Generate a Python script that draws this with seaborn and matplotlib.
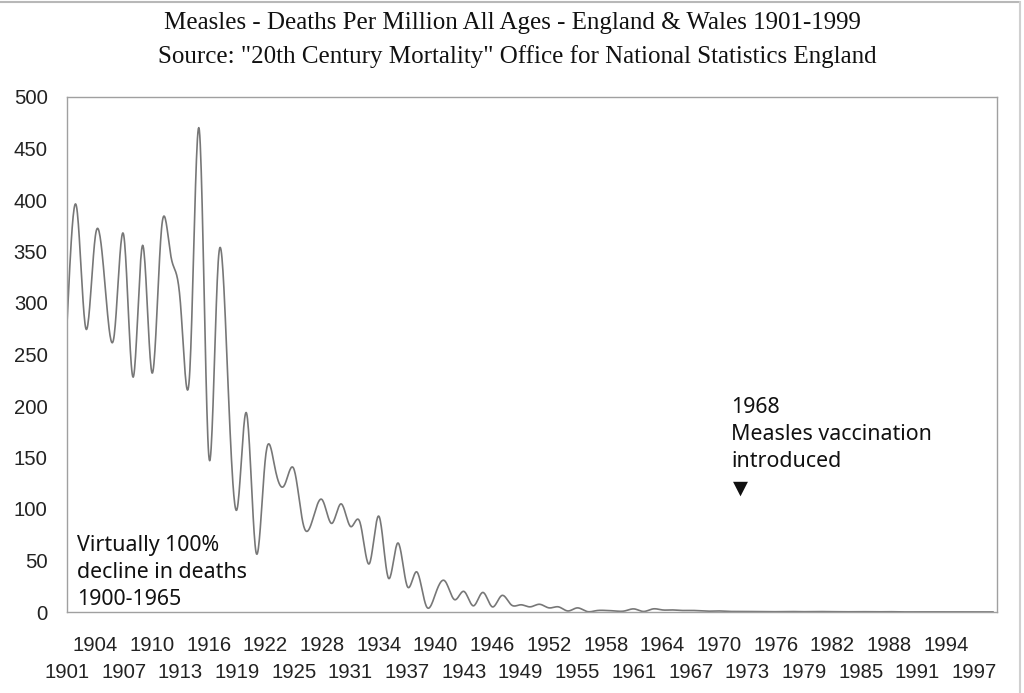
import numpy as np
import pandas as pd
import matplotlib
matplotlib.use("Agg")
import matplotlib.pyplot as plt
import seaborn as sns

# Dados: mortes por sarampo por milhão
anos = list(range(1901, 2000))
mortes = [
    280, 394, 275, 365, 320, 269, 366, 228, 356, 232,
    372, 345, 300, 235, 468, 152, 340, 230, 100, 193,
    58, 150, 140, 123, 139, 85, 90, 109, 86, 105,
    83, 87, 47, 93, 33, 67, 25, 39, 6, 18,
    30, 12, 20, 6, 19, 5, 16, 7, 7, 5,
    7.5, 4, 5, 1, 4, 0.5, 1.3, 1.5, 1, 1,
    3, 0.5, 3, 2, 2, 1.5, 1.5, 1.2, 0.8, 1.0,
    0.6, 0.5, 0.5, 0.4, 0.3, 0.3, 0.5, 0.4, 0.3, 0.5,
    0.4, 0.3, 0.3, 0.2, 0.3, 0.2, 0.2, 0.3, 0.1, 0.1,
    0.1, 0.1, 0.1, 0.1, 0.1, 0.05, 0.05, 0.05, 0.05,
]
y_ticks = list(range(0, 501, 50))
anos_linha_cima = list(range(1904, 2000, 6))    # 1904, 1910, ...
anos_linha_baixo = list(range(1901, 2000, 6))   # 1901, 1907, ...
titulo_1 = 'Measles - Deaths Per Million All Ages - England & Wales 1901-1999'
titulo_2 = 'Source: "20th Century Mortality" Office for National Statistics England'
nota_declinio = "Virtually 100%\ndecline in deaths\n1900-1965"
nota_vacina = "1968\nMeasles vaccination\nintroduced"


# Curva suavizada (spline cúbica natural) como no gráfico original
def spline_natural(x, y, n=20):
    x = np.asarray(x, float)
    y = np.asarray(y, float)
    m = len(x)
    h = np.diff(x)
    A = np.zeros((m, m))
    b = np.zeros(m)
    A[0, 0] = A[-1, -1] = 1
    for i in range(1, m - 1):
        A[i, i - 1] = h[i - 1]
        A[i, i] = 2 * (h[i - 1] + h[i])
        A[i, i + 1] = h[i]
        b[i] = 3 * ((y[i + 1] - y[i]) / h[i] - (y[i] - y[i - 1]) / h[i - 1])
    c = np.linalg.solve(A, b)
    xs, ys = [], []
    for i in range(m - 1):
        t = np.linspace(0, h[i], n, endpoint=False)
        bi = (y[i + 1] - y[i]) / h[i] - h[i] * (2 * c[i] + c[i + 1]) / 3
        di = (c[i + 1] - c[i]) / (3 * h[i])
        xs.append(x[i] + t)
        ys.append(y[i] + bi * t + c[i] * t ** 2 + di * t ** 3)
    xs.append([x[-1]])
    ys.append([y[-1]])
    return np.concatenate(xs), np.concatenate(ys)


sx, sy = spline_natural(anos, mortes)
curva = pd.DataFrame({"Ano": sx, "Mortes": sy})

sns.set_style("white")
plt.rcParams['font.family'] = ['Liberation Sans', 'DejaVu Sans']

fig = plt.figure(figsize=(10.24, 6.93), dpi=100)
ax = fig.add_axes([67 / 1024, 1 - 612 / 693, 930 / 1024, 515 / 693])

sns.lineplot(data=curva, x="Ano", y="Mortes", ax=ax, color="#777777", linewidth=1.2)

ax.set_xlim(1901, 1999.4)
ax.set_ylim(0, 500)
ax.set_yticks(y_ticks)
ax.set_yticklabels([str(v) for v in y_ticks], fontsize=14.6, color="#222222")

# rótulos do eixo x: linha de cima nos ticks maiores, linha de baixo nos menores
ax.set_xticks(anos_linha_cima)
ax.set_xticklabels([str(a) for a in anos_linha_cima], fontsize=14.6, color="#222222")
ax.set_xticks(anos, minor=True)
ax.set_xticklabels([str(a) if a in anos_linha_baixo else "" for a in anos],
                   minor=True, fontsize=14.6, color="#222222")

ax.tick_params(axis="x", which="both", direction="out", length=4, width=1,
               color="#c8c8c8")
ax.tick_params(axis="x", which="major", pad=13)
ax.tick_params(axis="x", which="minor", pad=32.5)
ax.tick_params(axis="y", direction="out", length=5, width=1, color="#b0b0b0", pad=9)
ax.set_xlabel("")
ax.set_ylabel("")
for s in ax.spines.values():
    s.set_color("#a0a0a0")
    s.set_linewidth(1)

fig.text(0.5, 1 - 29 / 693, titulo_1, ha="center", va="baseline", fontsize=18,
         family="Liberation Serif", color="#111111")
fig.text(0.505, 1 - 63 / 693, titulo_2, ha="center", va="baseline", fontsize=18,
         family="Liberation Serif", color="#111111")

ax.text(1902.05, 75, nota_declinio, fontsize=15.4, family="Noto Sans",
        va="top", ha="left", color="#111111", linespacing=1.37)
ax.text(1971.3, 209, nota_vacina, fontsize=15.4, family="Noto Sans",
        va="top", ha="left", color="#111111", linespacing=1.37)
ax.text(1972.3, 120, "▼", fontsize=14, family="DejaVu Sans", ha="center",
        va="center", color="#111111")

# moldura externa cinza
fig.add_artist(plt.Line2D([0, 1020 / 1024], [1 - 2 / 693, 1 - 2 / 693],
                          transform=fig.transFigure, color="#b8b8b8", lw=1.5))
fig.add_artist(plt.Line2D([1020 / 1024, 1020 / 1024], [0, 1 - 2 / 693],
                          transform=fig.transFigure, color="#d0d0d0", lw=1.5))

fig.savefig("out.png", dpi=100)
